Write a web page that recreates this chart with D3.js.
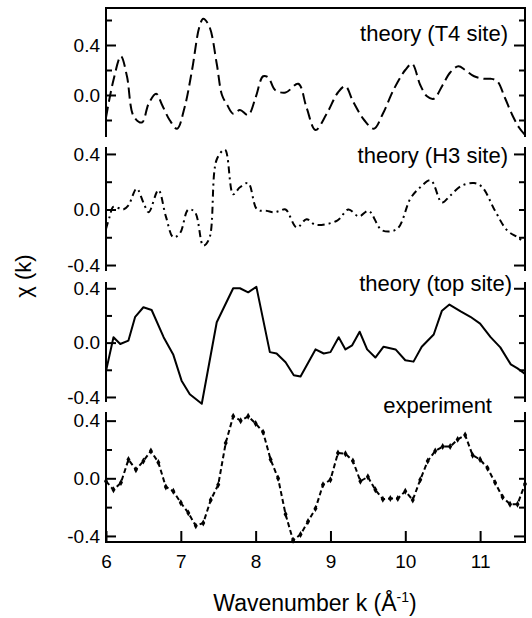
<!DOCTYPE html>
<html>
<head>
<meta charset="utf-8">
<script src="https://cdn.jsdelivr.net/npm/d3@7"></script>
<style>
  html, body { margin: 0; padding: 0; background: #fff; }
  svg { display: block; }
  text { font-family: "Liberation Sans", Arial, Helvetica, sans-serif; fill: #000; }
</style>
</head>
<body>
<svg id="chart" width="532" height="618"></svg>
<script>
// EXAFS oscillations chi(k) for three adsorption-site models and the measurement.
// Each series is a list of [k, chi] pairs.
const t4Site = [
  [6.0,-0.18],[6.1,0.12],[6.2,0.31],[6.28,0.15],[6.37,-0.17],[6.48,-0.22],[6.57,-0.07],
  [6.67,0.01],[6.75,-0.08],[6.85,-0.2],[6.95,-0.27],[7.05,-0.1],[7.15,0.2],[7.25,0.55],
  [7.30,0.61],[7.38,0.55],[7.48,0.25],[7.55,0.0],[7.62,-0.08],[7.70,-0.15],[7.79,-0.12],
  [7.90,-0.16],[8.0,-0.02],[8.1,0.15],[8.17,0.14],[8.26,0.04],[8.40,0.02],[8.57,0.09],
  [8.68,-0.1],[8.80,-0.28],[8.95,-0.15],[9.1,0.02],[9.2,0.07],[9.3,-0.05],[9.45,-0.2],
  [9.58,-0.27],[9.7,-0.15],[9.85,0.05],[10.0,0.2],[10.09,0.25],[10.2,0.08],[10.29,-0.01],
  [10.38,-0.03],[10.5,0.08],[10.6,0.18],[10.71,0.23],[10.8,0.2],[10.92,0.15],[11.05,0.13],
  [11.14,0.13],[11.23,0.11],[11.33,-0.02],[11.43,-0.16],[11.52,-0.26],[11.6,-0.32]
];
const h3Site = [
  [6.0,-0.14],[6.05,-0.05],[6.1,0.02],[6.23,0.0],[6.3,0.03],[6.41,0.15],[6.5,0.05],
  [6.57,-0.02],[6.70,0.14],[6.8,-0.05],[6.9,-0.2],[6.99,-0.17],[7.10,0.0],[7.19,-0.02],
  [7.30,-0.26],[7.38,-0.21],[7.48,0.36],[7.59,0.43],[7.70,0.11],[7.79,0.16],[7.90,0.19],
  [8.02,0.0],[8.15,-0.01],[8.24,-0.02],[8.32,-0.01],[8.40,0.0],[8.55,-0.13],[8.68,-0.07],
  [8.80,-0.11],[9.09,-0.08],[9.24,0.0],[9.38,-0.05],[9.51,-0.01],[9.69,-0.15],[9.89,-0.14],
  [10.07,0.08],[10.2,0.16],[10.34,0.21],[10.49,0.05],[10.6,0.1],[10.75,0.17],[10.92,0.19],
  [11.03,0.16],[11.2,-0.01],[11.36,-0.15],[11.5,-0.2],[11.6,-0.24]
];
const topSite = [
  [6.0,-0.21],[6.10,0.04],[6.19,-0.01],[6.30,0.015],[6.39,0.19],[6.50,0.26],[6.61,0.24],
  [6.77,0.04],[6.90,-0.09],[7.01,-0.28],[7.12,-0.38],[7.28,-0.45],[7.48,0.15],[7.70,0.40],
  [7.79,0.40],[7.90,0.37],[8.01,0.41],[8.19,-0.07],[8.28,-0.08],[8.40,-0.145],[8.51,-0.24],
  [8.60,-0.25],[8.80,-0.05],[8.91,-0.08],[9.0,-0.07],[9.11,0.04],[9.20,-0.05],[9.29,-0.02],
  [9.39,0.08],[9.49,-0.05],[9.60,-0.11],[9.71,-0.03],[9.87,-0.05],[10.0,-0.13],[10.11,-0.14],
  [10.22,-0.03],[10.38,0.06],[10.49,0.235],[10.59,0.28],[10.74,0.23],[10.87,0.19],[11.0,0.14],
  [11.14,0.04],[11.27,-0.035],[11.41,-0.16],[11.50,-0.19],[11.6,-0.23]
];
const experiment = [
  [6.0,-0.02],[6.1,-0.08],[6.2,-0.03],[6.3,0.13],[6.4,0.06],[6.5,0.12],[6.6,0.19],[6.7,0.11],
  [6.8,-0.06],[6.9,-0.09],[7.0,-0.17],[7.1,-0.24],[7.2,-0.33],[7.3,-0.31],[7.4,-0.15],
  [7.5,-0.045],[7.6,0.245],[7.7,0.43],[7.8,0.40],[7.9,0.43],[8.0,0.38],[8.1,0.32],[8.2,0.13],
  [8.3,0.0],[8.4,-0.25],[8.5,-0.43],[8.6,-0.39],[8.7,-0.30],[8.8,-0.21],[8.9,-0.045],
  [9.0,-0.01],[9.1,0.175],[9.2,0.17],[9.3,0.12],[9.4,-0.02],[9.5,0.01],[9.6,-0.08],
  [9.7,-0.145],[9.8,-0.14],[9.9,-0.14],[10.0,-0.09],[10.1,-0.15],[10.2,-0.01],[10.3,0.12],
  [10.4,0.19],[10.5,0.22],[10.6,0.22],[10.7,0.27],[10.8,0.30],[10.9,0.16],[11.0,0.13],
  [11.1,0.07],[11.2,-0.03],[11.3,-0.13],[11.4,-0.18],[11.5,-0.18],[11.6,-0.04]
];
const seriesLabels = ["theory (T4 site)", "theory (H3 site)", "theory (top site)", "experiment"];
const xTicks = [6, 7, 8, 9, 10, 11];
const kRange = [6, 11.6];

const svg = d3.select("#chart");
const left = 106, right = 525;
const x = d3.scaleLinear().domain(kRange).range([left, right]);

// Panel geometry: vertical extent, chi range and line style of each stacked panel.
const panels = [
  { data: t4Site, top: 8,   bottom: 137, domain: [-0.336, 0.696], ticks: [-0.2, 0, 0.2, 0.4, 0.6],
    dash: "11,5", curve: d3.curveCatmullRom.alpha(0.5), labelX: 508, labelY: 41 },
  { data: h3Site, top: 147, bottom: 271, domain: [-0.443, 0.450], ticks: [-0.4, -0.2, 0, 0.2, 0.4],
    dash: "7,4,2,4", curve: d3.curveCatmullRom.alpha(0.5), labelX: 508, labelY: 163 },
  { data: topSite, top: 282, bottom: 402, domain: [-0.437, 0.446], ticks: [-0.4, -0.2, 0, 0.2, 0.4],
    dash: null, curve: d3.curveLinear, labelX: 512, labelY: 291 },
  { data: experiment, top: 412, bottom: 542, domain: [-0.442, 0.460], ticks: [-0.4, -0.2, 0, 0.2, 0.4],
    dash: "5,3", curve: d3.curveLinear, labelX: 492, labelY: 413, markers: true }
];

const fmt = d => d3.format(".1f")(d).replace("−", "-");

panels.forEach((p, i) => {
  const y = d3.scaleLinear().domain(p.domain).range([p.bottom, p.top]);
  const g = svg.append("g");

  // data line
  const line = d3.line().x(d => x(d[0])).y(d => y(d[1])).curve(p.curve);
  g.append("path")
    .datum(p.data)
    .attr("d", line)
    .attr("fill", "none")
    .attr("stroke", "#000")
    .attr("stroke-width", 2)
    .attr("stroke-dasharray", p.dash)
    .attr("stroke-linejoin", "round");

  if (p.markers) {
    g.selectAll("path.pt")
      .data(p.data)
      .join("path")
      .attr("class", "pt")
      .attr("d", d3.symbol(d3.symbolDiamond, 14))
      .attr("transform", d => `translate(${x(d[0])},${y(d[1])})`)
      .attr("fill", "#000");
  }

  // left axis: ticks point inward, labels only on the major ticks
  const isMajorLeft = t => Math.abs(Math.round(t * 10)) % 4 === 0;
  const leftAxis = d3.axisLeft(y)
    .tickValues(p.ticks)
    .tickSize(0)
    .tickFormat(t => isMajorLeft(t) ? fmt(t) : "");
  const la = g.append("g").attr("transform", `translate(${left},0)`).call(leftAxis);
  la.select(".domain").remove();
  la.selectAll(".tick text")
    .attr("x", -6)
    .attr("font-size", 19)
    .attr("font-family", "Liberation Sans, Arial, sans-serif")
    .attr("fill", "#000");
  la.selectAll(".tick line")
    .attr("x2", t => isMajorLeft(t) ? 10 : 6)
    .attr("stroke", "#000")
    .attr("stroke-width", 2);

  // right axis: longer ticks only at +-0.4
  const isMajorRight = t => Math.abs(Math.abs(t) - 0.4) < 1e-6;
  const rightAxis = d3.axisRight(y).tickValues(p.ticks).tickSize(0).tickFormat("");
  const ra = g.append("g").attr("transform", `translate(${right},0)`).call(rightAxis);
  ra.select(".domain").remove();
  ra.selectAll(".tick line")
    .attr("x2", t => isMajorRight(t) ? -11 : -6)
    .attr("stroke", "#000")
    .attr("stroke-width", 2);

  // vertical frame segments of this panel
  [left, right].forEach(xx => {
    g.append("line")
      .attr("x1", xx).attr("x2", xx)
      .attr("y1", p.top).attr("y2", p.bottom)
      .attr("stroke", "#000").attr("stroke-width", 2);
  });

  g.append("text")
    .attr("x", p.labelX)
    .attr("y", p.labelY)
    .attr("text-anchor", "end")
    .attr("font-size", 22)
    .text(seriesLabels[i]);
});

// top frame line
svg.append("line")
  .attr("x1", left - 1).attr("x2", right + 1)
  .attr("y1", 8).attr("y2", 8)
  .attr("stroke", "#000").attr("stroke-width", 2);

// bottom k axis
const bottomY = panels[panels.length - 1].bottom;
const xAxis = d3.axisBottom(x).tickValues(xTicks).tickSize(0).tickFormat(d3.format("d"));
const xa = svg.append("g").attr("transform", `translate(0,${bottomY})`).call(xAxis);
xa.select(".domain").remove();
xa.selectAll(".tick line").attr("y2", -11).attr("stroke", "#000").attr("stroke-width", 2);
xa.selectAll(".tick text")
  .attr("y", 26)
  .attr("dy", 0)
  .attr("font-size", 19)
  .attr("font-family", "Liberation Sans, Arial, sans-serif")
  .attr("fill", "#000");
svg.append("line")
  .attr("x1", left - 1).attr("x2", right + 1)
  .attr("y1", bottomY).attr("y2", bottomY)
  .attr("stroke", "#000").attr("stroke-width", 2);

// axis titles
const xt = svg.append("text")
  .attr("x", 315)
  .attr("y", 611)
  .attr("text-anchor", "middle")
  .attr("font-size", 23);
xt.append("tspan").text("Wavenumber k (Å");
xt.append("tspan").attr("font-size", 14).attr("dy", -9).text("-1");
xt.append("tspan").attr("dy", 9).text(")");

svg.append("text")
  .attr("transform", "translate(31,276) rotate(-90)")
  .attr("text-anchor", "middle")
  .attr("font-size", 22)
  .text("χ (k)");
</script>
</body>
</html>
